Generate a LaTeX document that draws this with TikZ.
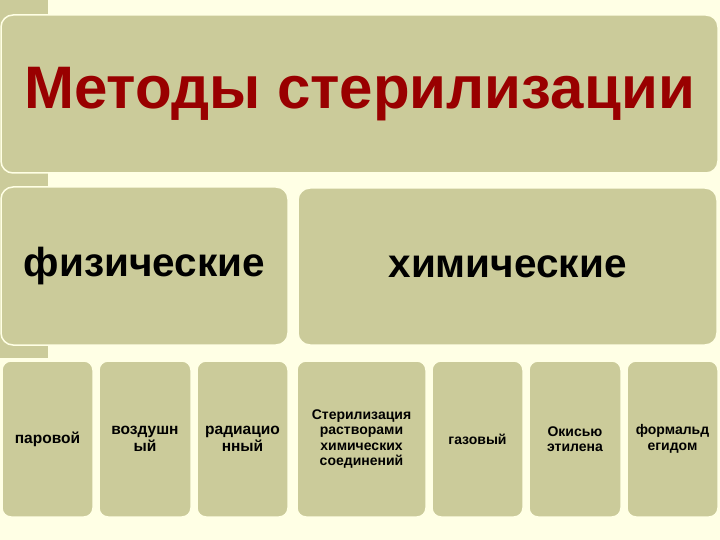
\documentclass[tikz,border=0pt]{standalone}
\usepackage{fontspec}
\setmainfont{Liberation Sans}
\definecolor{bg}{HTML}{FFFFE5}
\definecolor{boxc}{HTML}{CBCB9A}
\definecolor{titlered}{HTML}{990000}
\begin{document}
\begin{tikzpicture}[x=1pt,y=-1pt,
  box/.style={rounded corners=12pt, fill=boxc, draw=bg, line width=1.5pt, inner sep=0pt, align=center, font=\bfseries},
  smallbox/.style={box, rounded corners=9pt, minimum height=156pt},
  leftfont/.style={font=\bfseries\fontsize{15.5}{16.5}\selectfont},
  rightfont/.style={font=\bfseries\fontsize{14}{15.5}\selectfont}]
\fill[bg] (0,0) rectangle (720,540);
\useasboundingbox (0,0) rectangle (720,540);
\fill[boxc] (0,0) rectangle (48,358);
\node[box, minimum width=717pt, minimum height=158pt, text=titlered,
  font=\bfseries\fontsize{60}{66}\selectfont] (title) at (359.5,94) {Методы стерилизации};
\node[box, minimum width=287pt, minimum height=158pt,
  font=\bfseries\fontsize{40.5}{44}\selectfont] (phys) at (144.5,266) {физические};
\node[box, minimum width=419pt, minimum height=157pt,
  font=\bfseries\fontsize{40.5}{44}\selectfont] (chem) at (507.5,266.5) {химические};
\node[smallbox, leftfont, minimum width=91pt] (steam) at (47.5,439) {паровой};
\node[smallbox, leftfont, minimum width=92pt] (air) at (145,439) {воздушн\\ый};
\node[smallbox, leftfont, minimum width=91pt] (rad) at (242.5,439) {радиацио\\нный};
\node[smallbox, rightfont, minimum width=129pt] (sol) at (361.5,439) {Стерилизация\\растворами\\химических\\соединений};
\node[smallbox, rightfont, minimum width=91pt] (gas) at (477.5,439) {газовый};
\node[smallbox, rightfont, minimum width=92pt] (eth) at (575,439) {Окисью\\этилена};
\node[smallbox, rightfont, minimum width=91pt] (form) at (672.5,439) {формальд\\егидом};
\end{tikzpicture}
\end{document}
